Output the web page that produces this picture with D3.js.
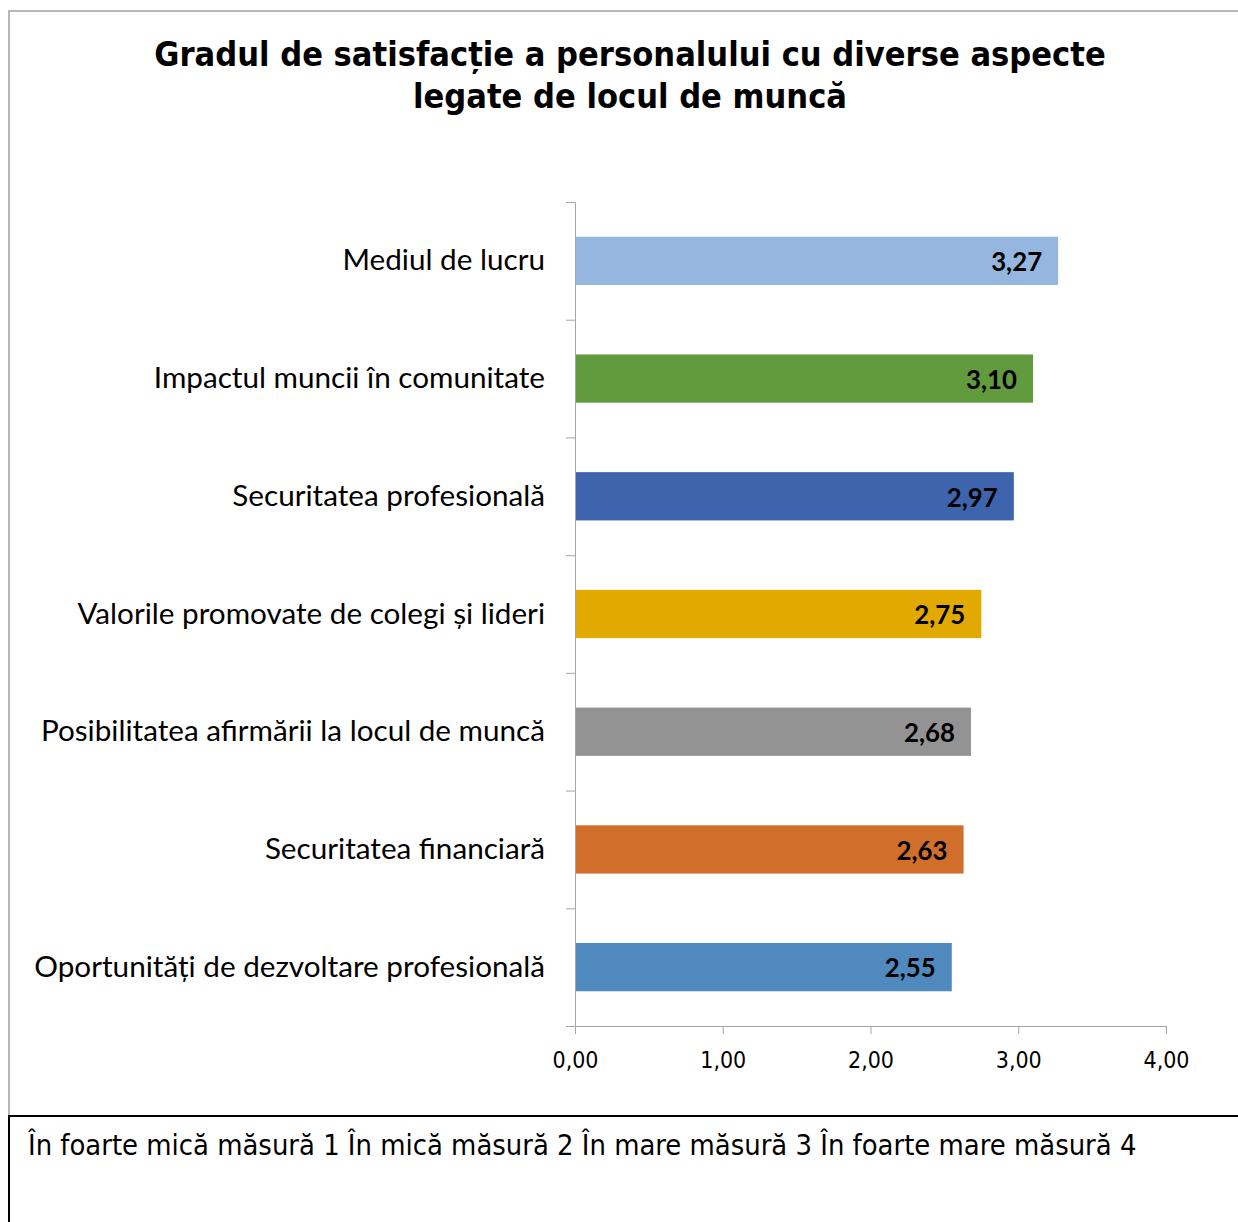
<!DOCTYPE html>
<html>
<head>
<meta charset="utf-8">
<script src="https://cdn.jsdelivr.net/npm/d3@7"></script>
<style>
  body { margin: 0; background: #fff; }
  svg { display: block; }
  .axis path, .axis line { stroke: #a6a6a6; }
</style>
</head>
<body>
<div id="chart"></div>
<script>
const titleLines = ['Gradul de satisfacție a personalului cu diverse aspecte', 'legate de locul de muncă'];
const categories = [
  'Mediul de lucru',
  'Impactul muncii în comunitate',
  'Securitatea profesională',
  'Valorile promovate de colegi și lideri',
  'Posibilitatea afirmării la locul de muncă',
  'Securitatea financiară',
  'Oportunități de dezvoltare profesională'
];
const values = [3.27, 3.10, 2.97, 2.75, 2.68, 2.63, 2.55];
const barColors = ['#95b7df', '#629a3e', '#3d64ad', '#e2a900', '#939393', '#d16e2b', '#4f89bd'];
const xTicks = [0, 1, 2, 3, 4];
const footnote = 'În foarte mică măsură 1 În mică măsură 2 În mare măsură 3 În foarte mare măsură 4';

const W = 1238, H = 1222;
const plot = { left: 575, right: 1166, top: 202, bottom: 1026 };
const condensed = '"DejaVu Sans Condensed", "DejaVu Sans", sans-serif';
const humanist = 'Lato, "Open Sans", sans-serif';
const fmt = d => d3.format('.2f')(d).replace('.', ',');

const svg = d3.select('#chart').append('svg')
  .attr('width', W)
  .attr('height', H);

// scale a text's font-size so its width hits the target
function fitWidth(sel, target) {
  const size = parseFloat(sel.style('font-size'));
  const len = sel.node().getComputedTextLength();
  sel.style('font-size', (size * target / len) + 'px');
  return sel.style('font-size');
}

// frame
svg.append('path')
  .attr('d', `M9,1116 V11 H${W}`)
  .attr('fill', 'none')
  .attr('stroke', '#a0a0a0')
  .attr('stroke-width', 1.5);
svg.append('path')
  .attr('d', `M9,${H} V1116 H${W}`)
  .attr('fill', 'none')
  .attr('stroke', '#000')
  .attr('stroke-width', 2);

// title
const title = svg.append('g')
  .attr('font-family', condensed)
  .attr('font-weight', 'bold')
  .attr('text-anchor', 'middle');
const t1 = title.append('text').attr('x', 630).attr('y', 66).style('font-size', '30px').text(titleLines[0]);
const titleSize = fitWidth(t1, 952);
title.append('text').attr('x', 630).attr('y', 108).style('font-size', titleSize).text(titleLines[1]);

// scales
const x = d3.scaleLinear().domain([0, 4]).range([plot.left, plot.right]);
const y = d3.scaleBand().domain(categories)
  .range([plot.top, plot.bottom])
  .paddingInner(0.59)
  .paddingOuter(0.295);
const yIdx = d3.scaleLinear().domain([0, categories.length]).range([plot.top, plot.bottom]);

// bars
svg.append('g').selectAll('rect')
  .data(categories)
  .join('rect')
  .attr('x', x(0))
  .attr('y', d => y(d))
  .attr('width', (d, i) => x(values[i]) - x(0))
  .attr('height', y.bandwidth())
  .attr('fill', (d, i) => barColors[i]);

// x axis
const xAxis = svg.append('g')
  .attr('class', 'axis')
  .attr('transform', `translate(0,${plot.bottom})`)
  .call(d3.axisBottom(x).tickValues(xTicks).tickSize(8).tickSizeOuter(0).tickPadding(18).tickFormat(fmt));
xAxis.selectAll('text')
  .attr('fill', '#000')
  .attr('font-family', condensed)
  .style('font-size', '22px');
const tickSize = fitWidth(xAxis.select('text'), 46);
xAxis.selectAll('text').style('font-size', tickSize);

// y axis: line with ticks between categories
svg.append('g')
  .attr('class', 'axis')
  .attr('transform', `translate(${plot.left},0)`)
  .call(d3.axisLeft(yIdx).ticks(categories.length).tickSize(9).tickSizeOuter(9).tickFormat(''));

// category labels
const yLabels = svg.append('g')
  .attr('transform', `translate(${plot.left},0)`)
  .call(d3.axisLeft(y).tickSize(0).tickPadding(30));
yLabels.select('.domain').remove();
yLabels.selectAll('text')
  .attr('fill', '#000')
  .attr('font-family', humanist)
  .attr('dy', '0.32em')
  .style('font-size', '26px');
const labelSize = fitWidth(yLabels.selectAll('text').filter((d, i) => i === categories.length - 1), 511);
yLabels.selectAll('text').style('font-size', labelSize);

// value labels
const vals = svg.append('g')
  .attr('font-family', humanist)
  .attr('font-weight', 'bold')
  .attr('text-anchor', 'end')
  .selectAll('text')
  .data(categories)
  .join('text')
  .attr('x', (d, i) => x(values[i]) - 16)
  .attr('y', d => y(d) + y.bandwidth() / 2)
  .attr('dy', '0.4em')
  .style('font-size', '26px')
  .text((d, i) => fmt(values[i]));
const valSize = fitWidth(vals.filter((d, i) => i === 2), 51);
vals.style('font-size', valSize);

// footnote
const foot = svg.append('text')
  .attr('x', 28)
  .attr('y', 1155)
  .attr('font-family', condensed)
  .style('font-size', '26px')
  .text(footnote);
fitWidth(foot, 1109);
</script>
</body>
</html>
